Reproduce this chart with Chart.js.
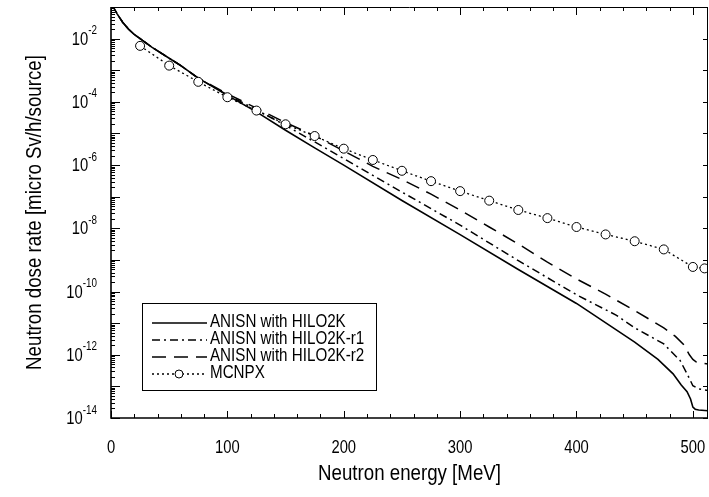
<!DOCTYPE html>
<html>
<head>
<meta charset="utf-8">
<script src="https://cdn.jsdelivr.net/npm/chart.js@4"></script>
<style>
html,body{margin:0;padding:0;background:#fff;}
canvas{display:block;}
</style>
</head>
<body>
<canvas id="c" width="709" height="497"></canvas>
<script>
// ---- data ----
const seriesLabels = ["ANISN with HILO2K", "ANISN with HILO2K-r1", "ANISN with HILO2K-r2", "MCNPX"];

const hiloE    = [0, 2, 5, 10, 15, 20, 25, 35, 50, 60, 75, 100, 125, 150, 175, 200, 250, 300, 350, 400, 450, 470, 483, 490, 495, 498, 500, 502, 505, 513];
const hiloDose = [1.6e-1, 1.0e-1, 6.3e-2, 3.3e-2, 2.0e-2, 1.35e-2, 1.0e-2, 5.4e-3, 2.4e-3, 1.4e-3, 5.6e-4, 1.6e-4, 4.8e-5, 1.26e-5, 3.5e-6, 1.0e-6, 7.6e-8, 6.3e-9, 5.0e-10, 4.2e-11, 2.5e-12, 7.1e-13, 2.5e-13, 1.1e-13, 6.8e-14, 4.0e-14, 2.2e-14, 1.9e-14, 1.8e-14, 1.7e-14];

const r1E    = [0, 2, 5, 10, 15, 20, 25, 35, 50, 60, 75, 100, 125, 150, 175, 200, 250, 300, 350, 400, 434, 450, 475, 489, 495, 500, 505, 513];
const r1Dose = [1.6e-1, 1.0e-1, 6.3e-2, 3.3e-2, 2.0e-2, 1.35e-2, 1.0e-2, 5.4e-3, 2.4e-3, 1.4e-3, 5.6e-4, 1.66e-4, 5.6e-5, 1.8e-5, 5.4e-6, 1.6e-6, 1.4e-7, 1.26e-8, 9.5e-10, 7.9e-11, 1.8e-11, 7.1e-12, 2.2e-12, 6.6e-13, 2.5e-13, 1.05e-13, 8.3e-14, 7.4e-14];

const r2E    = [0, 2, 5, 10, 15, 20, 25, 35, 50, 60, 75, 100, 125, 150, 175, 200, 225, 250, 275, 300, 325, 350, 375, 400, 425, 450, 475, 485, 492, 497, 500, 503, 508, 513];
const r2Dose = [1.6e-1, 1.0e-1, 6.3e-2, 3.3e-2, 2.0e-2, 1.35e-2, 1.0e-2, 5.4e-3, 2.4e-3, 1.4e-3, 5.6e-4, 1.8e-4, 6.3e-5, 2.2e-5, 8.5e-6, 2.8e-6, 9.1e-7, 3.5e-7, 1.2e-7, 3.8e-8, 1.1e-8, 3.2e-9, 8.5e-10, 2.5e-10, 8.3e-11, 2.5e-11, 7.1e-12, 3.8e-12, 2.1e-12, 1.0e-12, 7.1e-13, 5.9e-13, 5.4e-13, 5.1e-13];

const mcnpxE    = [25, 50, 75, 100, 125, 150, 175, 200, 225, 250, 275, 300, 325, 350, 375, 400, 425, 450, 475, 500, 510];
const mcnpxDose = [5.9e-3, 1.4e-3, 4.3e-4, 1.4e-4, 5.3e-5, 1.95e-5, 8.3e-6, 3.3e-6, 1.45e-6, 6.6e-7, 3.1e-7, 1.5e-7, 7.5e-8, 3.8e-8, 2.1e-8, 1.1e-8, 6.4e-9, 3.9e-9, 2.15e-9, 6.0e-10, 5.4e-10];

const xTickLabels = ["0", "100", "200", "300", "400", "500"];
const yTickExponents = [-14, -12, -10, -8, -6, -4, -2];
const xTitle = "Neutron energy [MeV]";
const yTitle = "Neutron dose rate [micro Sv/h/source]";

// ---- styling ----
const FONT = '"Liberation Sans", Arial, Helvetica, sans-serif';
const CONDENSE = 0.82;
const pts = (xs, ys) => xs.map((x, i) => ({x: x, y: ys[i]}));

const datasets = [
  {label: seriesLabels[0], data: pts(hiloE, hiloDose), borderColor: '#000', borderWidth: 1.6, borderDash: [], pointRadius: 0, order: 3},
  {label: seriesLabels[1], data: pts(r1E, r1Dose), borderColor: '#000', borderWidth: 1.5, borderDash: [8, 4, 2, 4], pointRadius: 0, order: 2},
  {label: seriesLabels[2], data: pts(r2E, r2Dose), borderColor: '#000', borderWidth: 1.5, borderDash: [14, 8], pointRadius: 0, order: 1},
  {label: seriesLabels[3], data: pts(mcnpxE, mcnpxDose), borderColor: '#000', borderWidth: 1.3, borderDash: [2, 3],
   pointRadius: 4.5, pointBackgroundColor: '#fff', pointBorderColor: '#000', pointBorderWidth: 1, order: 0}
];

function ctext(ctx, s, x, y, size, align, baseline) {
  ctx.save();
  ctx.font = size + 'px ' + FONT;
  ctx.textAlign = align || 'left';
  ctx.textBaseline = baseline || 'alphabetic';
  ctx.translate(x, y);
  ctx.scale(CONDENSE, 1);
  ctx.fillText(s, 0, 0);
  ctx.restore();
}
function cwidth(ctx, s, size) {
  ctx.save();
  ctx.font = size + 'px ' + FONT;
  const w = ctx.measureText(s).width * CONDENSE;
  ctx.restore();
  return w;
}

const decor = {
  id: 'decor',
  afterDraw(chart) {
    const ctx = chart.ctx, a = chart.chartArea, xs = chart.scales.x, ys = chart.scales.y;
    ctx.save();
    ctx.strokeStyle = '#000';
    ctx.fillStyle = '#000';
    ctx.lineWidth = 1;
    ctx.beginPath();
    ctx.moveTo(a.left, a.top + 0.5); ctx.lineTo(a.right, a.top + 0.5);
    ctx.moveTo(a.right - 0.5, a.top); ctx.lineTo(a.right - 0.5, a.bottom);
    ctx.stroke();
    ctx.lineWidth = 1.6;
    ctx.beginPath();
    ctx.moveTo(a.left, a.top); ctx.lineTo(a.left, a.bottom);
    ctx.lineTo(a.right, a.bottom);
    ctx.stroke();
    ctx.lineWidth = 1;
    ctx.beginPath();
    for (let v = 0; v <= xs.max; v += 20) {
      const px = Math.round(xs.getPixelForValue(v)) + 0.5;
      const major = v % 100 === 0;
      ctx.moveTo(px, a.bottom); ctx.lineTo(px, a.bottom - (major ? 7 : 4));
      ctx.moveTo(px, a.top); ctx.lineTo(px, a.top + (major ? 8 : 4));
    }
    for (let e = -14; e <= -1; e++) {
      for (let m = 1; m <= 9; m++) {
        const val = m * Math.pow(10, e);
        if (val > ys.max * 1.0001) break;
        const py = Math.round(ys.getPixelForValue(val)) + 0.5;
        ctx.moveTo(a.left, py); ctx.lineTo(a.left + (m === 1 ? 9 : 4), py);
        if (m === 1) { ctx.moveTo(a.right, py); ctx.lineTo(a.right - 5, py); }
      }
    }
    ctx.stroke();
    xTickLabels.forEach(t => {
      ctext(ctx, t, xs.getPixelForValue(Number(t)), a.bottom + 30, 18, 'center', 'middle');
    });
    yTickExponents.forEach(e => {
      const py = ys.getPixelForValue(Math.pow(10, e));
      const expTxt = '-' + Math.abs(e);
      const wExp = cwidth(ctx, expTxt, 12);
      const wBase = cwidth(ctx, '10', 18);
      const right = a.left - 14;
      ctext(ctx, '10', right - wExp - wBase, py + 6, 18, 'left');
      ctext(ctx, expTxt, right - wExp, py - 4.5, 12, 'left');
    });
    ctext(ctx, xTitle, (a.left + a.right) / 2, 474, 22.8, 'center', 'middle');
    ctx.save();
    ctx.translate(35, (a.top + a.bottom) / 2);
    ctx.rotate(-Math.PI / 2);
    ctext(ctx, yTitle, 0, 0, 22.8, 'center', 'middle');
    ctx.restore();
    const bx = 142.5, by = 303.5, bw = 234, bh = 87;
    ctx.lineWidth = 1;
    ctx.strokeRect(bx, by, bw, bh);
    const rowY = [322, 339, 356, 373];
    chart.data.datasets.forEach((ds, i) => {
      const y = rowY[i];
      ctx.save();
      ctx.lineWidth = ds.borderWidth;
      ctx.setLineDash(ds.borderDash || []);
      ctx.beginPath();
      ctx.moveTo(152, y + 1); ctx.lineTo(207, y + 1);
      ctx.stroke();
      ctx.setLineDash([]);
      if (ds.pointRadius > 0) {
        ctx.beginPath();
        ctx.arc(179, y + 1, 4, 0, Math.PI * 2);
        ctx.fillStyle = '#fff'; ctx.fill();
        ctx.lineWidth = 1; ctx.stroke();
      }
      ctx.restore();
      ctext(ctx, ds.label, 210, y, 18.5, 'left', 'middle');
    });
    ctx.restore();
  }
};

new Chart(document.getElementById('c'), {
  type: 'line',
  data: {datasets: datasets},
  options: {
    responsive: false,
    animation: false,
    devicePixelRatio: 1,
    layout: {autoPadding: false, padding: {left: 111, right: 1, top: 7, bottom: 79}},
    elements: {line: {tension: 0, fill: false}},
    plugins: {legend: {display: false}, tooltip: {enabled: false}},
    scales: {
      x: {type: 'linear', min: 0, max: 513, display: false},
      y: {type: 'logarithmic', min: 1e-14, max: 1e-1, display: false}
    }
  },
  plugins: [decor]
});
</script>
</body>
</html>
